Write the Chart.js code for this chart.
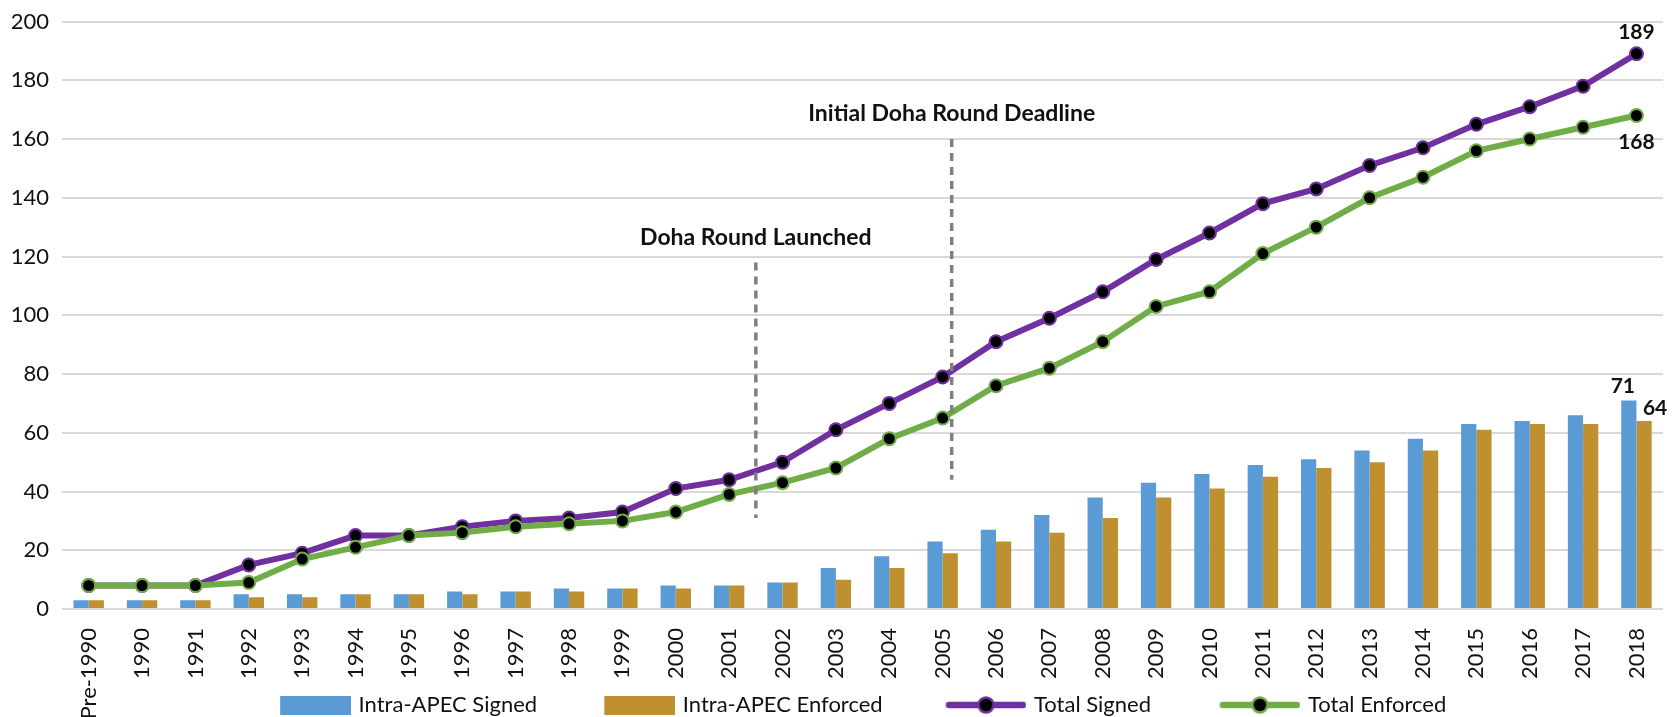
<!DOCTYPE html>
<html>
<head>
<meta charset="utf-8">
<script src="https://cdn.jsdelivr.net/npm/chart.js@4.4.1/dist/chart.umd.min.js"></script>
<style>
    html, body { margin: 0; padding: 0; background: #fff; }
    #wrap { width: 1674px; height: 717px; position: relative; }
</style>
</head>
<body>
<div id="wrap"><canvas id="ftaChart"></canvas></div>
<script>
const years = ["Pre-1990", "1990", "1991", "1992", "1993", "1994", "1995", "1996", "1997", "1998",
    "1999", "2000", "2001", "2002", "2003", "2004", "2005", "2006", "2007", "2008",
    "2009", "2010", "2011", "2012", "2013", "2014", "2015", "2016", "2017", "2018"];
const intraSigned = [3, 3, 3, 5, 5, 5, 5, 6, 6, 7, 7, 8, 8, 9, 14, 18, 23, 27, 32, 38, 43, 46, 49, 51, 54, 58, 63, 64, 66, 71];
const intraEnforced = [3, 3, 3, 4, 4, 5, 5, 5, 6, 6, 7, 7, 8, 9, 10, 14, 19, 23, 26, 31, 38, 41, 45, 48, 50, 54, 61, 63, 63, 64];
const totalSigned = [8, 8, 8, 15, 19, 25, 25, 28, 30, 31, 33, 41, 44, 50, 61, 70, 79, 91, 99, 108, 119, 128, 138, 143, 151, 157, 165, 171, 178, 189];
const totalEnforced = [8, 8, 8, 9, 17, 21, 25, 26, 28, 29, 30, 33, 39, 43, 48, 58, 65, 76, 82, 91, 103, 108, 121, 130, 140, 147, 156, 160, 164, 168];
const yTicks = [0, 20, 40, 60, 80, 100, 120, 140, 160, 180, 200];

// events marked with dashed lines (x in category units, y range in chart values)
const eventLabels = ["Doha Round Launched", "Initial Doha Round Deadline"];
const eventIndex = [12.5, 16.17];
const eventFrom = [31, 44];
const eventTo = [118, 160];

const FONT = "Lato, 'DejaVu Sans', sans-serif";
const TEXT = "#111";
const BLUE = "#5B9BD5", GOLD = "#BF9030", PURPLE = "#7030A0", GREEN = "#70AD47";

// legend icons, drawn right-aligned so the text sits close to them
function barIcon(color) {
    const c = document.createElement("canvas");
    c.width = 87; c.height = 19;
    const g = c.getContext("2d");
    g.fillStyle = color;
    g.fillRect(16, 0, 71, 19);
    return c;
}
function lineIcon(color) {
    const c = document.createElement("canvas");
    c.width = 87; c.height = 22;
    const g = c.getContext("2d");
    g.strokeStyle = color; g.lineWidth = 6.5; g.lineCap = "round";
    g.beginPath(); g.moveTo(9.5, 11); g.lineTo(83.5, 11); g.stroke();
    g.beginPath(); g.arc(46.5, 11, 7.5, 0, Math.PI * 2);
    g.fillStyle = "#000"; g.fill();
    g.lineWidth = 2.5; g.strokeStyle = color; g.stroke();
    return c;
}

// pad legend text with spaces so items land where the original legend had them
const measureCtx = document.createElement("canvas").getContext("2d");
function padTo(text, width, size) {
    measureCtx.font = size + "px " + FONT;
    let t = text;
    while (measureCtx.measureText(t + "\u00a0").width <= width) t += "\u00a0";
    return t;
}
const legendSize = 22;
const legendWidths = [230, 259, 183, 151];

// let the tick labels run into the legend band and centre the legend under the plot
const layoutFix = {
    id: "layoutFix",
    afterLayout(chart) {
        const x = chart.scales.x;
        x.bottom = chart.height;
        x.height = x.bottom - x.top;
        chart.legend.left = chart.chartArea.left;
        chart.legend.right = chart.chartArea.right;
    }
};

const eventMarkers = {
    id: "eventMarkers",
    afterDatasetsDraw(chart) {
        const { ctx, scales: { x, y } } = chart;
        ctx.save();
        eventLabels.forEach((label, i) => {
            const px = x.getPixelForValue(eventIndex[i]);
            const top = y.getPixelForValue(eventTo[i]);
            const bottom = y.getPixelForValue(eventFrom[i]);
            ctx.setLineDash([8, 6]);
            ctx.strokeStyle = "#808080";
            ctx.lineWidth = 3.5;
            ctx.beginPath();
            ctx.moveTo(px, top);
            ctx.lineTo(px, bottom);
            ctx.stroke();
            ctx.setLineDash([]);
            ctx.fillStyle = TEXT;
            ctx.font = "bold 23px " + FONT;
            ctx.textAlign = "center";
            ctx.textBaseline = "middle";
            ctx.fillText(label, px, top - 25);
        });
        ctx.restore();
    }
};

// value labels on the last category
const lastLabels = {
    id: "lastLabels",
    afterDatasetsDraw(chart) {
        const { ctx } = chart;
        const offsets = [[-6, -14], [11, -13], [0, -22], [0, 27]];
        ctx.save();
        ctx.fillStyle = TEXT;
        ctx.font = "bold 21px " + FONT;
        ctx.textAlign = "center";
        ctx.textBaseline = "middle";
        chart.data.datasets.forEach((ds, i) => {
            const meta = chart.getDatasetMeta(i);
            const last = meta.data[meta.data.length - 1];
            ctx.fillText(String(ds.data[ds.data.length - 1]), last.x + offsets[i][0], last.y + offsets[i][1]);
        });
        ctx.restore();
    }
};

const ctx = document.getElementById("ftaChart").getContext("2d");
new Chart(ctx, {
    type: "bar",
    data: {
        labels: years,
        datasets: [
            {
                label: "Intra-APEC Signed",
                data: intraSigned,
                backgroundColor: BLUE,
                categoryPercentage: 0.57,
                barPercentage: 1,
                order: 3,
                icon: barIcon(BLUE)
            },
            {
                label: "Intra-APEC Enforced",
                data: intraEnforced,
                backgroundColor: GOLD,
                categoryPercentage: 0.57,
                barPercentage: 1,
                order: 3,
                icon: barIcon(GOLD)
            },
            {
                label: "Total Signed",
                data: totalSigned,
                type: "line",
                borderColor: PURPLE,
                borderWidth: 6,
                pointRadius: 6.5,
                pointBorderWidth: 2,
                pointBackgroundColor: "#000",
                pointBorderColor: PURPLE,
                fill: false,
                tension: 0,
                order: 2,
                icon: lineIcon(PURPLE)
            },
            {
                label: "Total Enforced",
                data: totalEnforced,
                type: "line",
                borderColor: GREEN,
                borderWidth: 6,
                pointRadius: 6.5,
                pointBorderWidth: 2,
                pointBackgroundColor: "#000",
                pointBorderColor: GREEN,
                fill: false,
                tension: 0,
                order: 1,
                icon: lineIcon(GREEN)
            }
        ]
    },
    options: {
        responsive: true,
        maintainAspectRatio: false,
        animation: false,
        layout: { padding: { top: 21.5, right: 7, left: 0, bottom: -9 } },
        scales: {
            x: {
                grid: { display: false },
                border: { display: false },
                ticks: {
                    minRotation: 90,
                    maxRotation: 90,
                    autoSkip: false,
                    padding: 11,
                    color: TEXT,
                    font: { family: FONT, size: 22 }
                },
                afterFit: (scale) => { scale.height = 81; }
            },
            y: {
                min: 0,
                max: 200,
                afterBuildTicks: (scale) => { scale.ticks = yTicks.map(v => ({ value: v })); },
                grid: { color: "#D9D9D9", lineWidth: 2, drawTicks: false },
                border: { display: false },
                ticks: {
                    padding: 13,
                    color: TEXT,
                    font: { family: FONT, size: 22 }
                },
                afterFit: (scale) => {
                    scale.width = 62;
                    scale.paddingTop = 0;
                    scale.paddingBottom = 0;
                }
            }
        },
        plugins: {
            tooltip: { enabled: false },
            legend: {
                position: "bottom",
                labels: {
                    usePointStyle: true,
                    pointStyleWidth: 80,
                    padding: 4,
                    color: TEXT,
                    font: { family: FONT, size: legendSize },
                    generateLabels: (chart) => chart.data.datasets.map((ds, i) => ({
                        text: padTo(ds.label, legendWidths[i], legendSize),
                        pointStyle: ds.icon,
                        fillStyle: ds.backgroundColor || ds.borderColor,
                        strokeStyle: ds.borderColor || ds.backgroundColor,
                        lineWidth: 0,
                        fontColor: TEXT,
                        hidden: !chart.isDatasetVisible(i),
                        datasetIndex: i
                    }))
                }
            }
        }
    },
    plugins: [layoutFix, eventMarkers, lastLabels]
});
</script>
</body>
</html>
